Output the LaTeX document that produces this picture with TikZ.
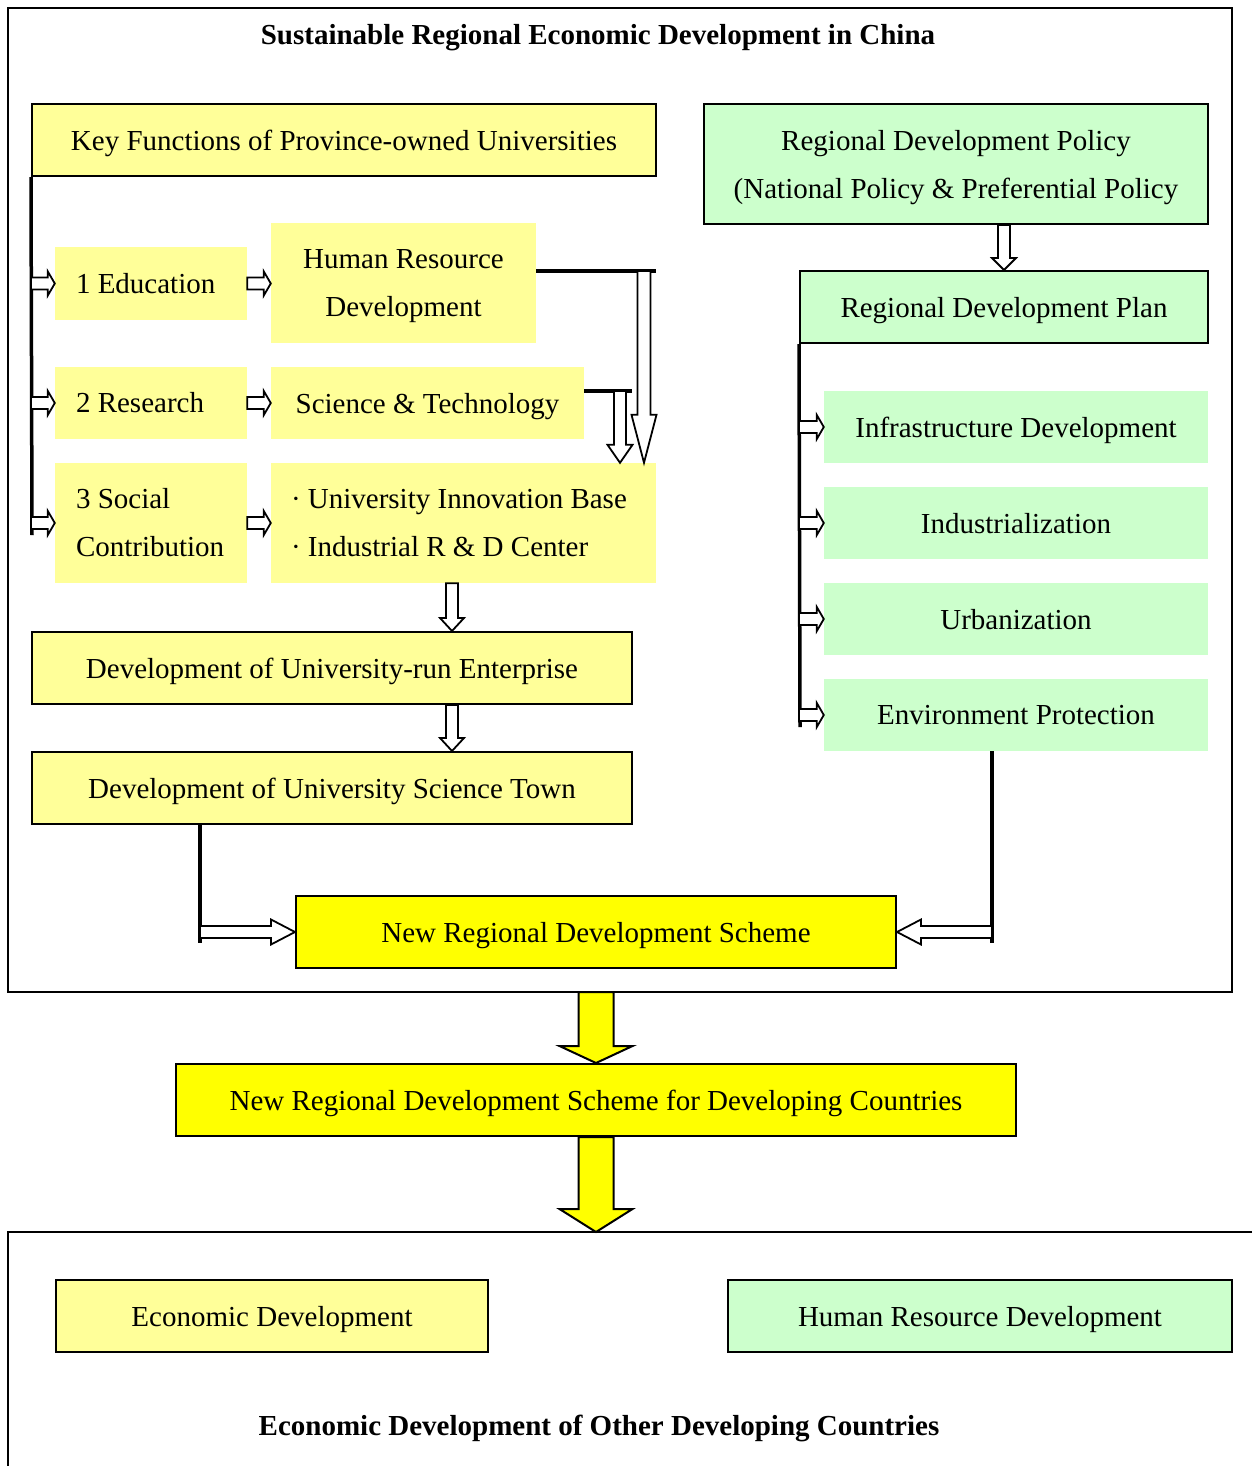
\documentclass[tikz,border=0pt]{standalone}
\usepackage{fontspec}
\setmainfont{Liberation Serif}
\usetikzlibrary{calc}
\definecolor{paleyellow}{HTML}{FFFF99}
\definecolor{palegreen}{HTML}{CCFFCC}
\definecolor{brightyellow}{HTML}{FFFF00}

% block arrow from #2 to #3: shaft half width #4, head half width #5, head length #6
\newcommand\blockarrow[6][]{%
  \draw[hollow,#1] let \p1=(#2), \p2=(#3),
      \n1={veclen(\x2-\x1,\y2-\y1)},
      \n2={(\x2-\x1)/\n1}, \n3={(\y2-\y1)/\n1} in
    ({\x1-(\n3)*(#4pt)},{\y1+(\n2)*(#4pt)})
    -- ({\x2-(\n2)*(#6pt)-(\n3)*(#4pt)},{\y2-(\n3)*(#6pt)+(\n2)*(#4pt)})
    -- ({\x2-(\n2)*(#6pt)-(\n3)*(#5pt)},{\y2-(\n3)*(#6pt)+(\n2)*(#5pt)})
    -- (\p2)
    -- ({\x2-(\n2)*(#6pt)+(\n3)*(#5pt)},{\y2-(\n3)*(#6pt)-(\n2)*(#5pt)})
    -- ({\x2-(\n2)*(#6pt)+(\n3)*(#4pt)},{\y2-(\n3)*(#6pt)-(\n2)*(#4pt)})
    -- ({\x1+(\n3)*(#4pt)},{\y1-(\n2)*(#4pt)})
    -- cycle;}

\tikzset{
  every node/.style={font=\fontsize{29}{48}\selectfont, inner sep=0pt, text depth=0pt},
  sized/.style 2 args={minimum width=#1pt, minimum height=#2pt},
  yb/.style={fill=paleyellow},
  gb/.style={fill=palegreen},
  sb/.style={fill=brightyellow},
  framed/.style={draw=black, line width=2pt},
  lefttext/.style={align=flush left, text width=#1pt, text depth=},
  ctext/.style={align=center},
  heading/.style={font=\fontsize{29}{48}\selectfont\bfseries},
  frame/.style={draw=black, line width=2pt},
  bar/.style={line width=3.5pt},
  hollow/.style={draw=black, fill=white, line width=1.8pt, line join=miter},
  bigarrow/.style={fill=brightyellow, line width=2pt},
}

\begin{document}
\begin{tikzpicture}[x=1pt, y=-1pt]
\useasboundingbox (0,0) rectangle (1252,1466);

% outer frames
\draw[frame] (8,8) rectangle (1232,992);
\draw[frame] (1252,1232) -- (8,1232) -- (8,1466);

% headings
\node[heading] (topTitle) at (598,34) {Sustainable Regional Economic Development in China};
\node[heading] (bottomTitle) at (599,1425) {Economic Development of Other Developing Countries};

% university side
\node[yb, framed, sized={624}{72}] (key) at (344,140) {Key Functions of Province-owned Universities};
\node[yb, sized={192}{73}, lefttext=150] (edu) at (151,283.5) {1 Education};
\node[yb, sized={265}{120}, ctext] (hrd) at (403.5,283) {Human Resource\\Development};
\node[yb, sized={192}{72}, lefttext=150] (res) at (151,403) {2 Research};
\node[yb, sized={313}{72}] (sci) at (427.5,403) {Science \& Technology};
\node[yb, sized={192}{120}, lefttext=150] (soc) at (151,523) {3 Social\\Contribution};
\node[yb, sized={385}{120}, lefttext=345] (uib) at (463.5,523) {· University Innovation Base\\· Industrial R \& D Center};
\node[yb, framed, sized={600}{72}] (ent) at (332,668) {Development of University-run Enterprise};
\node[yb, framed, sized={600}{72}] (town) at (332,788) {Development of University Science Town};

% policy side
\node[gb, framed, sized={504}{120}, ctext] (pol) at (956,164) {Regional Development Policy\\(National Policy \& Preferential Policy};
\node[gb, framed, sized={408}{72}] (plan) at (1004,307) {Regional Development Plan};
\node[gb, sized={384}{72}] (inf) at (1016,427) {Infrastructure Development};
\node[gb, sized={384}{72}] (ind) at (1016,523) {Industrialization};
\node[gb, sized={384}{72}] (urb) at (1016,619) {Urbanization};
\node[gb, sized={384}{72}] (env) at (1016,715) {Environment Protection};

% schemes and outcomes
\node[sb, framed, sized={600}{72}] (nrds) at (596,932) {New Regional Development Scheme};
\node[sb, framed, sized={840}{72}] (nrdsdc) at (596,1100) {New Regional Development Scheme for Developing Countries};
\node[yb, framed, sized={432}{72}] (eco) at (272,1316) {Economic Development};
\node[gb, framed, sized={504}{72}] (hrdOut) at (980,1316) {Human Resource Development};

% turning points
\coordinate (lbEnd) at (32,535);
\coordinate (rbEnd) at (800,727);
\coordinate (hrdEnd) at (656,271);
\coordinate (hrdDrop) at (644,271);
\coordinate (sciEnd) at (632,391);
\coordinate (sciDrop) at (620,391);
\coordinate (entX) at (452,0);
\coordinate (townDrop) at (200,943);
\coordinate (envDrop) at (992,943);
\coordinate (frameOut) at (596,992);
\coordinate (lowerTop) at (596,1232);

% bars
\draw[bar] (key.south west) -- (lbEnd);
\draw[bar] (plan.south west) -- (rbEnd);
\draw[bar] (hrd.east |- hrdEnd) -- (hrdEnd);
\draw[bar] (sci.east |- sciEnd) -- (sciEnd);
\draw[bar] (town.south -| townDrop) -- (townDrop);
\draw[bar] (env.south -| envDrop) -- (envDrop);

% small arrows off the left bracket
\blockarrow{edu.west -| key.south west}{edu.west}{6}{12}{7}
\blockarrow{res.west -| key.south west}{res.west}{6}{12}{7}
\blockarrow{soc.west -| key.south west}{soc.west}{6}{12}{7}
\blockarrow{edu.east}{hrd.west |- edu.east}{6}{12}{7}
\blockarrow{res.east}{sci.west}{6}{12}{7}
\blockarrow{soc.east}{uib.west}{6}{12}{7}

% small arrows off the right bracket
\blockarrow{inf.west -| plan.south west}{inf.west}{6}{12}{7}
\blockarrow{ind.west -| plan.south west}{ind.west}{6}{12}{7}
\blockarrow{urb.west -| plan.south west}{urb.west}{6}{12}{7}
\blockarrow{env.west -| plan.south west}{env.west}{6}{12}{7}

% drops into the innovation base
\blockarrow{hrdDrop}{uib.north -| hrdDrop}{6.5}{12.5}{48}
\blockarrow{sciDrop}{uib.north -| sciDrop}{6}{12.5}{18}

% vertical chain
\blockarrow{uib.south -| entX}{ent.north -| entX}{6}{12}{13}
\blockarrow{ent.south -| entX}{town.north -| entX}{6}{12}{13}
\blockarrow{pol.south -| plan.north}{plan.north}{6}{12}{12}

% into the new scheme
\blockarrow{townDrop |- nrds.west}{nrds.west}{6}{12.5}{24}
\blockarrow{envDrop |- nrds.east}{nrds.east}{6}{12.5}{24}

% yellow arrows
\blockarrow[bigarrow]{frameOut}{nrdsdc.north}{17.5}{36.5}{17}
\blockarrow[bigarrow]{nrdsdc.south}{lowerTop}{17.5}{36.5}{23}
\end{tikzpicture}
\end{document}
